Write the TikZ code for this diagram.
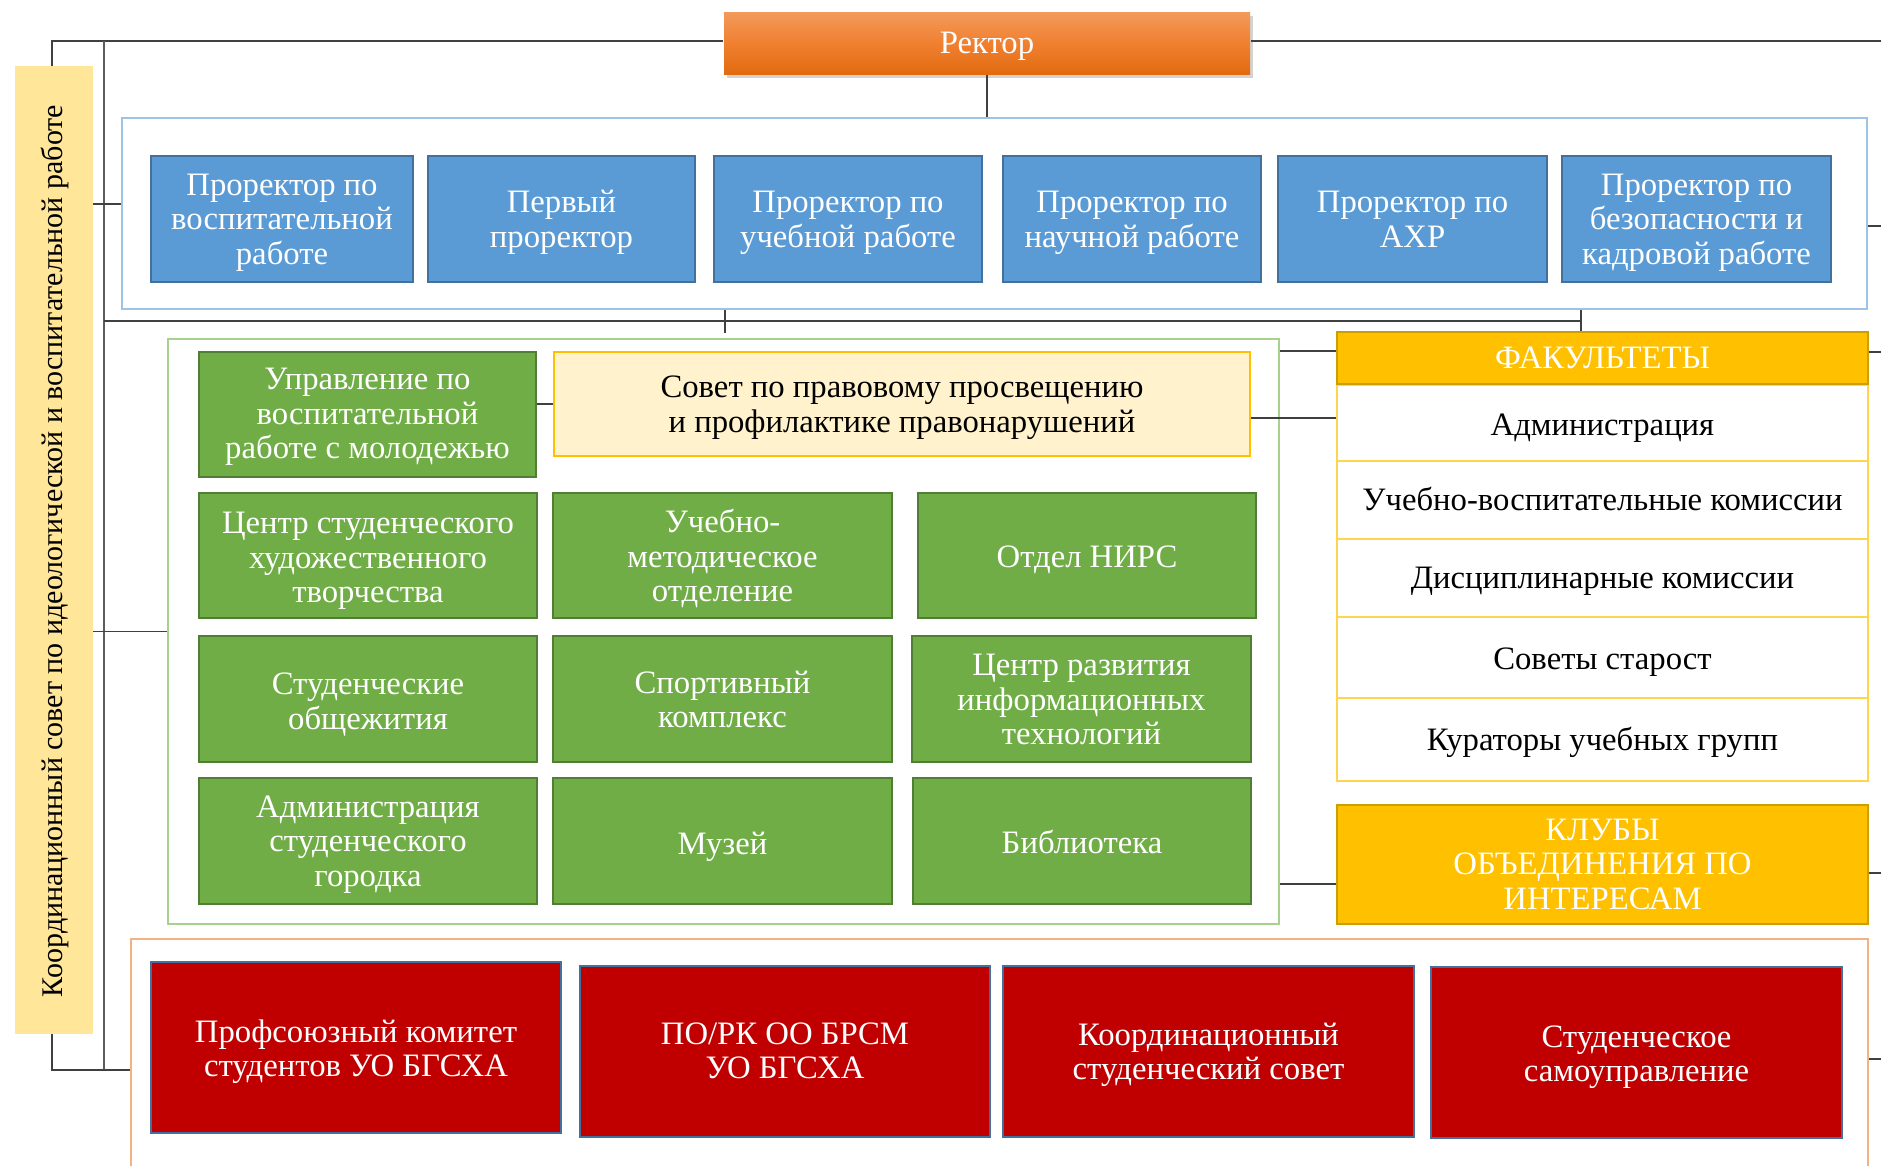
\documentclass[tikz,border=0pt]{standalone}
\usepackage{fontspec}
\setmainfont{Liberation Serif}
\usetikzlibrary{shadows}
\definecolor{cBlue}{HTML}{5B9BD5}
\definecolor{cBlueD}{HTML}{41719C}
\definecolor{cBlueL}{HTML}{9DC3E6}
\definecolor{cGreen}{HTML}{70AD47}
\definecolor{cGreenD}{HTML}{507E32}
\definecolor{cGreenL}{HTML}{A9D18E}
\definecolor{cGold}{HTML}{FFC000}
\definecolor{cGoldD}{HTML}{C9A000}
\definecolor{cCream}{HTML}{FFF2CC}
\definecolor{cSide}{HTML}{FFE699}
\definecolor{cRed}{HTML}{C00000}
\definecolor{cOrL}{HTML}{F4B183}
\definecolor{cLine}{HTML}{404040}
\definecolor{cRowB}{HTML}{FFD54F}
\definecolor{cRectT}{HTML}{F29A5C}
\definecolor{cRectM}{HTML}{F08030}
\definecolor{cRectB}{HTML}{E26B10}
\newcommand{\bfs}{\fontsize{32.7}{34.5}\selectfont}
\newcommand{\tx}[2][4pt]{\raisebox{-#1}[\height][\depth]{\begin{tabular}{@{}c@{}}#2\end{tabular}}}
\begin{document}
\begin{tikzpicture}[x=1pt,y=-1pt,
  box/.style={draw, line width=1.5pt, inner sep=0pt, font=\bfs},
  bluebox/.style={box, fill=cBlue, draw=cBlueD, text=white},
  greenbox/.style={box, fill=cGreen, draw=cGreenD, text=white},
  redbox/.style={box, fill=cRed, draw=cBlueD, text=white},
  goldbox/.style={box, fill=cGold, draw=cGoldD, text=white},
  rowbox/.style={box, fill=white, draw=cRowB, line width=2pt, text=black},
  frame/.style={draw, line width=2.5pt, inner sep=0pt},
  conn/.style={draw=cLine, line width=1.6pt},
  trunk/.style={draw=cLine!85, line width=2.8pt},
]
\useasboundingbox (0,0) rectangle (1881,1165);
\clip (0,0) rectangle (1881,1165);

% containers
\node[frame, draw=cBlueL, minimum width=1745, minimum height=191] (bluecont) at (994.5,213.5) {};
\node[frame, draw=cGreenL, minimum width=1111, minimum height=585] (greencont) at (723.5,631.5) {};
\node[frame, draw=cOrL, minimum width=1737, minimum height=260] (orcont) at (999.5,1069) {};

% side box
\node[fill=cSide, draw=none, minimum width=78, minimum height=968, inner sep=0] (side) at (54,550) {};
\node[rotate=90, font=\fontsize{30}{34}\selectfont, inner sep=0] (sidetext) at (55,551) {Координационный совет по идеологической и воспитательной работе};

% rector
\node[box, draw=none, top color=cRectT, bottom color=cRectB, middle color=cRectM, text=white,
  minimum width=526, minimum height=62,
  drop shadow={shadow xshift=3pt, shadow yshift=-4pt, opacity=0.35}] (rector) at (987,43) {\tx{Ректор}};

% blue boxes
\node[bluebox, minimum width=262, minimum height=126] (b1) at (282,219) {\tx{Проректор по\\воспитательной\\работе}};
\node[bluebox, minimum width=267, minimum height=126] (b2) at (561.5,219) {\tx{Первый\\проректор}};
\node[bluebox, minimum width=268, minimum height=126] (b3) at (848,219) {\tx{Проректор по\\учебной работе}};
\node[bluebox, minimum width=258, minimum height=126] (b4) at (1132,219) {\tx{Проректор по\\научной работе}};
\node[bluebox, minimum width=269, minimum height=126] (b5) at (1412.5,219) {\tx{Проректор по\\АХР}};
\node[bluebox, minimum width=269, minimum height=126] (b6) at (1696.5,219) {\tx{Проректор по\\безопасности и\\кадровой работе}};

% green area
\node[greenbox, minimum width=337, minimum height=125] (gupr) at (367.5,414.5) {\tx[3pt]{Управление по\\воспитательной\\работе с молодежью}};
\node[box, fill=cCream, draw=cGold, line width=2.5pt, text=black, minimum width=696, minimum height=104] (sovet) at (902,404) {\tx{Совет по правовому просвещению\\и профилактике правонарушений}};
\node[greenbox, minimum width=338, minimum height=125] (gcent) at (368,555.5) {\tx[6pt]{Центр студенческого\\художественного\\творчества}};
\node[greenbox, minimum width=339, minimum height=125] (guchm) at (722.5,555.5) {\tx[5pt]{Учебно-\\методическое\\отделение}};
\node[greenbox, minimum width=338, minimum height=125] (gnirs) at (1087,555.5) {\tx[5pt]{Отдел НИРС}};
\node[greenbox, minimum width=338, minimum height=126] (gobsh) at (368,699) {\tx[6pt]{Студенческие\\общежития}};
\node[greenbox, minimum width=339, minimum height=126] (gsport) at (722.5,699) {\tx[4.5pt]{Спортивный\\комплекс}};
\node[greenbox, minimum width=339, minimum height=126] (gcrit) at (1081.5,699) {\tx[4.5pt]{Центр развития\\информационных\\технологий}};
\node[greenbox, minimum width=338, minimum height=126] (gadm) at (368,841) {\tx[4pt]{Администрация\\студенческого\\городка}};
\node[greenbox, minimum width=339, minimum height=126] (gmuz) at (722.5,841) {\tx[6.5pt]{Музей}};
\node[greenbox, minimum width=338, minimum height=126] (gbib) at (1082,841) {\tx[5.5pt]{Библиотека}};

% faculties
\node[rowbox, minimum width=531, minimum height=76] (f1) at (1602.5,423) {\tx[6pt]{Администрация}};
\node[rowbox, minimum width=531, minimum height=78] (f2) at (1602.5,500) {\tx[4pt]{Учебно-воспитательные комиссии}};
\node[rowbox, minimum width=531, minimum height=78] (f3) at (1602.5,578) {\tx[4pt]{Дисциплинарные комиссии}};
\node[rowbox, minimum width=531, minimum height=81] (f4) at (1602.5,657.5) {\tx[5pt]{Советы старост}};
\node[rowbox, minimum width=531, minimum height=83] (f5) at (1602.5,739.5) {\tx[4pt]{Кураторы учебных групп}};
\node[goldbox, minimum width=531, minimum height=52] (fak) at (1602.5,358) {\tx[3.5pt]{ФАКУЛЬТЕТЫ}};
\node[goldbox, minimum width=531, minimum height=119] (klub) at (1602.5,864.5) {\tx[3.5pt]{КЛУБЫ\\ОБЪЕДИНЕНИЯ ПО\\ИНТЕРЕСАМ}};

% red boxes
\node[redbox, minimum width=410, minimum height=171] (r1) at (356,1047.5) {\tx[5pt]{Профсоюзный комитет\\студентов УО БГСХА}};
\node[redbox, minimum width=410, minimum height=171] (r2) at (785,1051.5) {\tx[3pt]{ПО/РК ОО БРСМ\\УО БГСХА}};
\node[redbox, minimum width=411, minimum height=171] (r3) at (1208.5,1051.5) {\tx[4pt]{Координационный\\студенческий совет}};
\node[redbox, minimum width=411, minimum height=171] (r4) at (1636.5,1052.5) {\tx[5pt]{Студенческое\\самоуправление}};

% connectors
\coordinate (tl) at (52,41);
\coordinate (tl2) at (104,41);
\coordinate (bl) at (52,1070);
\coordinate (bl2) at (104,1070);
\coordinate (eTop) at (1881,41);
\draw[conn] (side.north -| tl) -- (tl) -- (tl -| rector.west);
\draw[conn] (rector.east |- tl) -- (eTop);
\draw[trunk] (tl2) -- (bl2);
\draw[conn] (side.south -| bl) -- (bl) -- (bl -| orcont.west);
\draw[conn] (rector.south) -- (rector.south |- bluecont.north);

\coordinate (yB) at (0,204);
\draw[conn] (side.east |- yB) -- (bluecont.west |- yB);
\draw[conn] (side.east |- greencont.west) -- (greencont.west);

\coordinate (hbar) at (104,321);
\coordinate (tick1) at (725,333);
\coordinate (tick2) at (1581,0);
\draw[conn] (hbar) -- (hbar -| tick2);
\draw[conn] (bluecont.south -| tick1) -- (tick1);
\draw[conn] (bluecont.south -| tick2) -- (fak.north -| tick2);

\coordinate (eB) at (1881,226);
\coordinate (eF) at (1881,352);
\coordinate (eK) at (1881,873);
\coordinate (eO) at (1881,1059);
\draw[conn] (bluecont.east |- eB) -- (eB);
\draw[conn] (fak.east |- eF) -- (eF);
\draw[conn] (klub.east |- eK) -- (eK);
\draw[conn] (orcont.east |- eO) -- (eO);

\coordinate (yGF) at (0,351);
\coordinate (ySF) at (0,418);
\coordinate (yGK) at (0,884);
\draw[conn] (greencont.east |- yGF) -- (fak.west |- yGF);
\draw[conn] (sovet.east |- ySF) -- (f1.west |- ySF);
\draw[conn] (gupr.east |- sovet.west) -- (sovet.west);
\draw[conn] (greencont.east |- yGK) -- (klub.west |- yGK);
\end{tikzpicture}
\end{document}
